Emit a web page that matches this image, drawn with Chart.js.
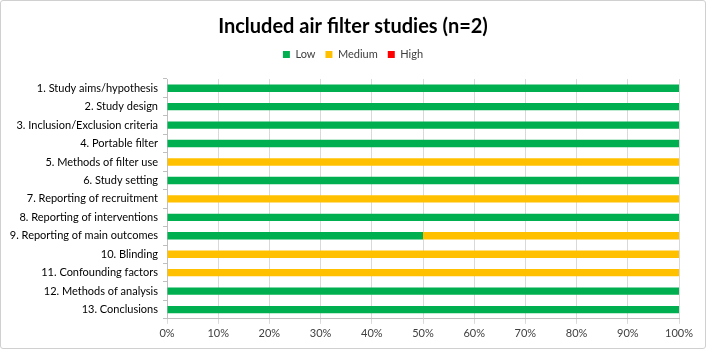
<!DOCTYPE html>
<html>
<head>
<meta charset="utf-8">
<script src="https://cdn.jsdelivr.net/npm/chart.js@4/dist/chart.umd.min.js"></script>
<style>
  html, body { margin: 0; padding: 0; background: #fff; }
  #wrap { width: 706px; height: 349px; box-sizing: border-box; border: 1px solid #d0d0d0; border-radius: 3px; position: relative; }
  canvas { display: block; }
</style>
</head>
<body>
<div id="wrap"><canvas id="c" width="704" height="347"></canvas></div>
<script>
const categories = [
  "1. Study aims/hypothesis",
  "2. Study design",
  "3. Inclusion/Exclusion criteria",
  "4. Portable filter",
  "5. Methods of filter use",
  "6. Study setting",
  "7. Reporting of recruitment",
  "8. Reporting of interventions",
  "9. Reporting of main outcomes",
  "10. Blinding",
  "11. Confounding factors",
  "12. Methods of analysis",
  "13. Conclusions"
];
const lowValues    = [100, 100, 100, 100, 0, 100, 0, 100, 50, 0, 0, 100, 100];
const mediumValues = [0, 0, 0, 0, 100, 0, 100, 0, 50, 100, 100, 0, 0];
const highValues   = [0, 0, 0, 0, 0, 0, 0, 0, 0, 0, 0, 0, 0];
const xTicks = [0, 10, 20, 30, 40, 50, 60, 70, 80, 90, 100];
const titleText = "Included air filter studies (n=2)";

const FONT = "Lato, 'Open Sans', sans-serif";
Chart.defaults.font.family = FONT;
Chart.defaults.color = "#404040";

// empty layout box that adds a gap between the legend and the plot area
const legendGap = {
  id: "legendGap",
  beforeInit(chart) {
    const box = {
      position: "top", weight: 0, fullSize: true, options: {},
      top: 0, left: 0, right: 0, bottom: 0, width: 0, height: 0,
      isHorizontal() { return true; },
      update(maxWidth) { this.width = maxWidth; this.height = 9; },
      draw() {}
    };
    Chart.layouts.addBox(chart, box);
  }
};

new Chart(document.getElementById("c"), {
  type: "bar",
  data: {
    labels: categories,
    datasets: [
      { label: "Low", data: lowValues, backgroundColor: "#00B050" },
      { label: "Medium", data: mediumValues, backgroundColor: "#FFC000" },
      { label: "High", data: highValues, backgroundColor: "#FF0000" }
    ]
  },
  plugins: [legendGap],
  options: {
    indexAxis: "y",
    responsive: false,
    animation: false,
    devicePixelRatio: 1,
    layout: { padding: { left: 2, right: 2, top: 0, bottom: 5 } },
    datasets: { bar: { categoryPercentage: 1.0, barPercentage: 0.4, borderWidth: 0 } },
    plugins: {
      title: {
        display: true, text: titleText,
        font: { family: FONT, size: 20, weight: "bold", lineHeight: 0.4 },
        color: "#000",
        padding: { top: 22, bottom: 8 }
      },
      legend: {
        position: "top",
        labels: { boxWidth: 7, boxHeight: 7, font: { size: 11 }, color: "#404040", padding: 10 }
      },
      tooltip: { enabled: false }
    },
    scales: {
      x: {
        stacked: true, min: 0, max: 100,
        afterBuildTicks: (s) => { s.ticks = xTicks.map(v => ({ value: v })); },
        afterFit: (s) => { s.paddingRight = 26; },
        ticks: { callback: (v) => v + "%", font: { size: 11 }, color: "#404040", maxRotation: 0 },
        grid: { color: "#d9d9d9", tickLength: 5, drawOnChartArea: true },
        border: { color: "#bfbfbf" }
      },
      y: {
        stacked: true,
        afterFit: (s) => { s.width = 164; },
        ticks: { font: { size: 11 }, color: "#000", padding: 5 },
        grid: { offset: true, drawOnChartArea: false, tickLength: 4, color: "#bfbfbf" },
        border: { color: "#bfbfbf" }
      }
    }
  }
});
</script>
</body>
</html>
